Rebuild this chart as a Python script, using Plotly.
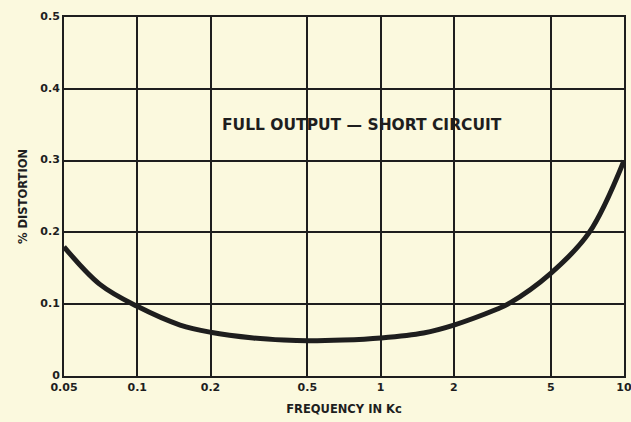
import plotly.graph_objects as go

freq_kc = [0.05, 0.07, 0.1, 0.15, 0.2, 0.3, 0.4, 0.5, 0.7, 1.0, 1.5, 2.0, 3.0, 3.33, 5.0, 7.2, 10.0]
distortion_pct = [0.180, 0.128, 0.097, 0.071, 0.061, 0.053, 0.050, 0.049, 0.050, 0.053, 0.060, 0.071, 0.093, 0.100, 0.143, 0.200, 0.300]

x_ticks = [0.05, 0.1, 0.2, 0.5, 1, 2, 5, 10]
x_tick_text = ["0.05", "0.1", "0.2", "0.5", "1", "2", "5", "10"]
y_ticks = [0, 0.1, 0.2, 0.3, 0.4, 0.5]
y_tick_text = ["0", "0.1", "0.2", "0.3", "0.4", "0.5"]

bg = "#fbf9de"
ink = "#1e1e1e"

fig = go.Figure()
fig.add_trace(go.Scatter(
    x=freq_kc, y=distortion_pct, mode="lines",
    line=dict(color=ink, width=5, shape="spline", smoothing=1.0),
    hoverinfo="skip", showlegend=False,
))

fig.add_annotation(
    x=0.532, y=0.35, xref="x domain", yref="y", showarrow=False,
    text="FULL OUTPUT — SHORT CIRCUIT", xanchor="center", yanchor="middle",
    font=dict(family="DejaVu Sans", size=15.5, color=ink, weight="bold"),
)

axis_font = dict(family="DejaVu Sans", size=11, color=ink, weight="bold")
title_font = dict(family="DejaVu Sans", size=11.5, color=ink, weight="bold")

fig.update_xaxes(
    type="log", range=[-1.30103, 1.0], tickvals=x_ticks, ticktext=x_tick_text,
    showgrid=True, gridcolor=ink, gridwidth=1.5,
    showline=True, linecolor=ink, linewidth=2, mirror=True,
    ticks="", tickfont=axis_font, zeroline=False, automargin=False,
    ticklabeloverflow="allow",
    title=dict(text="FREQUENCY IN Kc", font=title_font, standoff=12),
)
fig.update_yaxes(
    range=[0, 0.5], tickvals=y_ticks, ticktext=y_tick_text,
    showgrid=True, gridcolor=ink, gridwidth=1.5,
    showline=True, linecolor=ink, linewidth=2, mirror=True,
    ticks="", tickfont=axis_font, zeroline=False, ticklabelshift=-1,
    automargin=False, ticklabeloverflow="allow",
    title=dict(text="% DISTORTION", font=title_font, standoff=10),
)

fig.update_layout(
    width=631, height=422, autosize=False,
    margin=dict(l=64, r=7, t=17, b=46),
    paper_bgcolor=bg, plot_bgcolor=bg,
)

fig.write_html(
    "out.html",
    config=dict(displayModeBar=False, responsive=False),
    post_script="document.body.style.margin='0';document.body.style.overflow='hidden';document.body.style.background='" + bg + "';",
)
